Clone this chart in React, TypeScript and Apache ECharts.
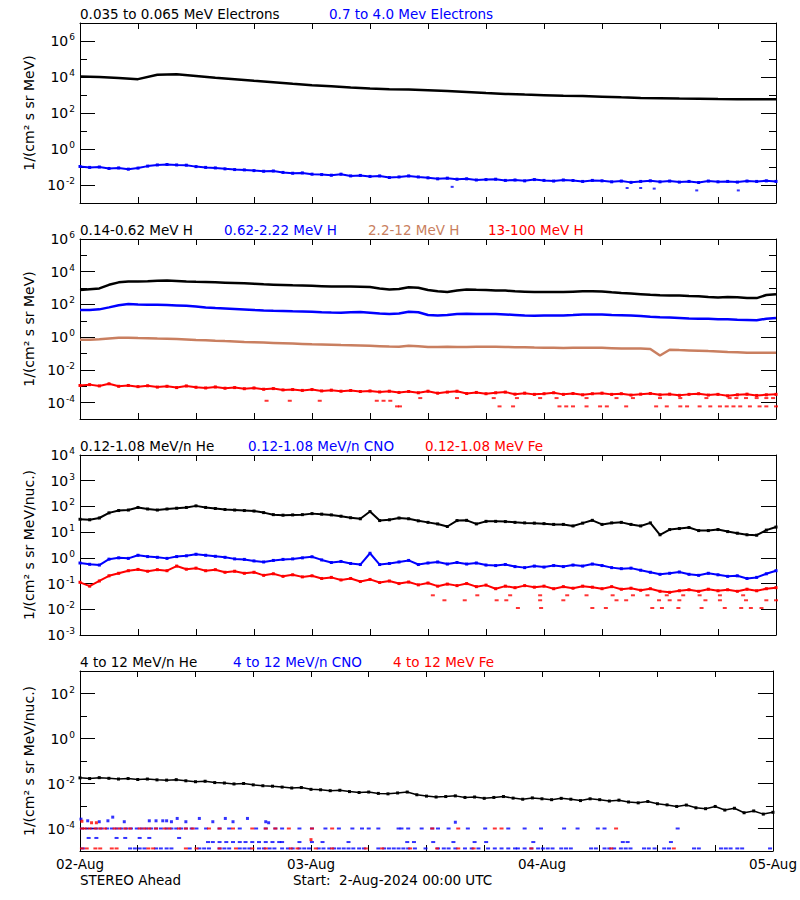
import React, { useEffect, useRef } from "react";
import * as echarts from "echarts";

// ---------------- DATA ----------------
// x: hours since 2-Aug-2024 00:00 UTC
const DAY_HOURS = [0, 24, 48, 72];
const DAY_LABELS = ["02-Aug", "03-Aug", "04-Aug", "05-Aug"];

// Panel 1 : electrons
const ELEC_LOW_STEP = 2; // 0.035 to 0.065 MeV electrons, every 2 h
const ELEC_LOW = [10700, 10000, 8900, 7600, 13200, 14100, 11500, 9100, 7600, 6200, 5100, 4200, 3500, 3100, 2600, 2300, 2100, 2000, 1860, 1660, 1480, 1290, 1150, 1050, 980, 910, 870, 810, 740, 690, 660, 630, 620, 590, 575, 575, 575];
const ELEC_HIGH = [0.107, 0.095, 0.10, 0.083, 0.089, 0.076, 0.087, 0.112, 0.13, 0.138, 0.13, 0.126, 0.105, 0.095, 0.089, 0.079, 0.072, 0.069, 0.063, 0.058, 0.06, 0.05, 0.045, 0.047, 0.04, 0.038, 0.035, 0.04, 0.032, 0.034, 0.030, 0.032, 0.026, 0.028, 0.032, 0.028, 0.025, 0.022, 0.024, 0.021, 0.022, 0.019, 0.020, 0.021, 0.018, 0.019, 0.017, 0.020, 0.018, 0.0166, 0.019, 0.0178, 0.0158, 0.018, 0.017, 0.015, 0.0166, 0.014, 0.0158, 0.017, 0.015, 0.0166, 0.0145, 0.0158, 0.0138, 0.0166, 0.015, 0.0158, 0.0145, 0.0166, 0.0158, 0.017, 0.0158];
const ELEC_HIGH_OUTLIERS = [[38.5, 0.0079], [56.6, 0.0068], [58.0, 0.0068], [59.4, 0.0063], [63.8, 0.005], [68.1, 0.005]];

// Panel 2 : protons (hourly)
const H_LOW = [759, 851, 955, 1585, 2239, 2512, 2570, 2630, 2818, 2951, 2754, 2512, 2399, 2344, 2239, 2138, 2042, 1950, 1820, 1698, 1622, 1549, 1479, 1445, 1380, 1318, 1259, 1259, 1230, 1202, 1148, 955, 832, 891, 1122, 1047, 759, 631, 575, 708, 832, 794, 759, 724, 708, 631, 603, 575, 575, 575, 575, 603, 631, 631, 617, 550, 501, 468, 427, 389, 363, 355, 347, 331, 316, 282, 269, 282, 275, 251, 245, 380, 427];
const H_MID = [45.7, 45.7, 50.1, 66.1, 89.1, 105, 100, 95.5, 95.5, 91.2, 87.1, 83.2, 75.9, 66.1, 60.3, 56.2, 52.5, 49.0, 45.7, 42.7, 40.7, 39.8, 38.0, 37.2, 36.3, 33.9, 32.4, 31.6, 33.1, 34.7, 31.6, 28.2, 26.3, 28.2, 35.5, 33.1, 22.9, 21.4, 22.9, 26.3, 26.9, 26.3, 25.7, 25.7, 24.5, 22.9, 20.9, 20.4, 20.9, 21.4, 21.4, 22.4, 24.0, 24.5, 24.0, 22.4, 21.9, 21.4, 20.0, 17.8, 16.6, 15.8, 14.8, 13.8, 13.5, 13.2, 12.6, 12.3, 11.7, 11.2, 10.7, 13.5, 14.8];
const H_HIGH = [0.692, 0.708, 0.759, 0.832, 0.912, 0.933, 0.891, 0.871, 0.832, 0.813, 0.776, 0.724, 0.676, 0.646, 0.603, 0.575, 0.550, 0.513, 0.490, 0.468, 0.447, 0.427, 0.407, 0.389, 0.372, 0.363, 0.347, 0.331, 0.324, 0.309, 0.295, 0.282, 0.269, 0.263, 0.302, 0.282, 0.251, 0.251, 0.257, 0.251, 0.251, 0.263, 0.263, 0.263, 0.251, 0.245, 0.240, 0.234, 0.229, 0.224, 0.219, 0.224, 0.229, 0.229, 0.224, 0.214, 0.204, 0.200, 0.200, 0.191, 0.076, 0.170, 0.162, 0.155, 0.148, 0.141, 0.135, 0.126, 0.120, 0.112, 0.112, 0.112, 0.112];
const H_TOP = [1.12e-3, 1.26e-3, 1.05e-3, 1.41e-3, 1.0e-3, 1.12e-3, 9.5e-4, 1.07e-3, 8.9e-4, 1.0e-3, 8.3e-4, 1.05e-3, 8.7e-4, 7.9e-4, 9.1e-4, 7.6e-4, 8.3e-4, 7.1e-4, 7.9e-4, 6.6e-4, 7.2e-4, 6.0e-4, 6.3e-4, 5.6e-4, 6.3e-4, 5.2e-4, 5.8e-4, 5.0e-4, 5.5e-4, 4.8e-4, 5.2e-4, 4.5e-4, 5.0e-4, 4.2e-4, 4.8e-4, 4.0e-4, 5.0e-4, 3.8e-4, 4.4e-4, 5.0e-4, 3.6e-4, 4.2e-4, 3.5e-4, 4.0e-4, 4.4e-4, 3.3e-4, 3.8e-4, 3.2e-4, 3.5e-4, 4.0e-4, 3.2e-4, 3.6e-4, 3.0e-4, 3.5e-4, 3.8e-4, 3.2e-4, 3.5e-4, 2.9e-4, 3.3e-4, 3.6e-4, 3.0e-4, 3.3e-4, 2.8e-4, 3.2e-4, 3.5e-4, 2.9e-4, 3.2e-4, 2.6e-4, 3.0e-4, 3.3e-4, 2.75e-4, 3.0e-4, 3.2e-4];
const H_TOP_LEVEL_A = 1.9e-4;
const H_TOP_HOURS_A = [35.2, 39.0, 42.8, 45.2, 47.6, 49.3, 52.4, 55.5, 57.2, 60.0, 62.1, 64.8, 67.2, 67.9, 68.9, 70.0, 71.0, 71.7];
const H_TOP_LEVEL_B = 1.3e-4;
const H_TOP_HOURS_B = [19.3, 21.7, 24.8, 30.7, 31.4, 32.1];
const H_TOP_LEVEL_C = 5.9e-5;
const H_TOP_HOURS_C = [32.8, 33.1, 43.4, 44.8, 49.6, 50.3, 51.0, 52.4, 53.8, 54.5, 56.5, 59.6, 60.7, 62.1, 62.8, 64.1, 65.2, 66.2, 66.9, 67.6, 68.3, 69.3, 70.3, 71.0, 72.0];

// Panel 3 : 0.12-1.08 MeV/n heavy ions (hourly)
const HE_LOW = [31.6, 30.2, 35.5, 56.2, 69.2, 72.4, 91.2, 79.4, 72.4, 79.4, 85.1, 91.2, 105, 91.2, 83.2, 75.9, 72.4, 69.2, 66.1, 57.5, 47.9, 45.7, 46.8, 47.9, 52.5, 50.1, 46.8, 41.7, 36.3, 33.1, 63.1, 28.2, 30.2, 35.5, 33.1, 27.5, 24.0, 20.9, 16.6, 28.2, 28.8, 20.9, 26.3, 26.3, 25.7, 24.0, 22.9, 22.4, 21.4, 20.0, 20.0, 17.4, 22.4, 28.8, 20.0, 22.9, 24.0, 20.0, 17.4, 22.9, 7.9, 12.6, 13.8, 15.1, 11.5, 11.5, 12.6, 10.5, 9.1, 7.9, 7.6, 12.0, 15.8];
const CNO_LOW = [0.631, 0.562, 0.525, 0.891, 1.0, 0.955, 1.26, 1.12, 1.05, 0.955, 1.12, 1.20, 1.38, 1.26, 1.15, 1.05, 0.912, 0.871, 0.759, 0.692, 0.794, 0.871, 0.912, 1.0, 1.10, 0.832, 0.661, 0.724, 0.603, 0.550, 1.51, 0.550, 0.603, 0.692, 0.794, 0.550, 0.631, 0.692, 0.575, 0.661, 0.575, 0.631, 0.525, 0.501, 0.550, 0.457, 0.417, 0.479, 0.437, 0.501, 0.457, 0.525, 0.479, 0.575, 0.501, 0.417, 0.380, 0.398, 0.331, 0.275, 0.229, 0.251, 0.282, 0.229, 0.209, 0.251, 0.219, 0.191, 0.200, 0.158, 0.174, 0.240, 0.316];
const FE_LOW = [0.112, 0.0794, 0.126, 0.200, 0.251, 0.316, 0.355, 0.302, 0.347, 0.316, 0.479, 0.363, 0.398, 0.316, 0.347, 0.275, 0.302, 0.251, 0.275, 0.209, 0.240, 0.191, 0.219, 0.182, 0.200, 0.158, 0.174, 0.138, 0.158, 0.120, 0.145, 0.110, 0.126, 0.100, 0.115, 0.0891, 0.105, 0.0794, 0.0955, 0.0832, 0.100, 0.0759, 0.0871, 0.0631, 0.0794, 0.0692, 0.0832, 0.0724, 0.0794, 0.0631, 0.0759, 0.0661, 0.0794, 0.0724, 0.0631, 0.0759, 0.0603, 0.0661, 0.0550, 0.0631, 0.0501, 0.0457, 0.0525, 0.0575, 0.0501, 0.0603, 0.0525, 0.0575, 0.0501, 0.0603, 0.0525, 0.0631, 0.0692];
const FE_LOW_LEVEL_A = 0.035;
const FE_LOW_HOURS_A = [36.5, 41.1, 44.5, 47.6, 50.4, 52.4, 55.1, 57.2, 58.7, 60.7, 62.4, 64.1, 66.2, 68.6];
const FE_LOW_LEVEL_B = 0.0224;
const FE_LOW_HOURS_B = [37.7, 39.8, 43.1, 44.1, 47.6, 50.0, 55.5, 56.5, 59.9, 61.0, 62.0, 64.7, 66.2, 68.9, 71.0, 72.0];
const FE_LOW_LEVEL_C = 0.0112;
const FE_LOW_HOURS_C = [45.3, 47.7, 53.0, 54.4, 59.2, 60.2, 61.9, 64.3, 66.7, 68.4, 69.4, 70.5];

// Panel 4 : 4 to 12 MeV/n heavy ions
const HE_HIGH = [0.0178, 0.0166, 0.0182, 0.0170, 0.0158, 0.0166, 0.0151, 0.0158, 0.0145, 0.0141, 0.0148, 0.0132, 0.0120, 0.0126, 0.0110, 0.0105, 0.00955, 0.0100, 0.00871, 0.00794, 0.00759, 0.00692, 0.00631, 0.00661, 0.00550, 0.00525, 0.00479, 0.00501, 0.00437, 0.00398, 0.00417, 0.00363, 0.00347, 0.00380, 0.00417, 0.00316, 0.00275, 0.00251, 0.00263, 0.00282, 0.00240, 0.00251, 0.00219, 0.00240, 0.00263, 0.00224, 0.00200, 0.00229, 0.00209, 0.00191, 0.00219, 0.00200, 0.00174, 0.00209, 0.00191, 0.00166, 0.00182, 0.00151, 0.00138, 0.00158, 0.00126, 0.00112, 0.000955, 0.00110, 0.000832, 0.000759, 0.000955, 0.000661, 0.000794, 0.000501, 0.000603, 0.000437, 0.000525];
const CNO_HIGH_UPPER = [[0.1, 2.6e-4], [0.8, 2.2e-4], [2.0, 2.0e-4], [2.9, 2.2e-4], [3.4, 3.2e-4], [4.6, 2.0e-4], [7.2, 2.2e-4], [7.9, 2.2e-4], [8.6, 2.2e-4], [9.0, 2.2e-4], [9.5, 2.0e-4], [10.1, 2.8e-4], [11.0, 2.0e-4], [12.4, 2.8e-4], [13.8, 2.0e-4], [15.1, 2.8e-4], [15.9, 2.0e-4], [17.4, 2.8e-4], [19.3, 2.0e-4], [19.6, 1.8e-4], [39.0, 1.9e-4]];
const CNO_HIGH_LEVEL_1 = 1.0e-4;
const CNO_HIGH_HOURS_1 = [0.2, 0.7, 1.2, 1.7, 2.2, 2.8, 3.3, 3.8, 4.3, 4.8, 5.3, 5.9, 6.4, 6.9, 7.4, 7.9, 8.4, 9.0, 9.5, 10.0, 10.5, 11.0, 11.6, 12.1, 13.1, 14.5, 15.5, 16.6, 18.3, 19.3, 20.3, 21.0, 22.8, 24.1, 25.5, 26.9, 28.3, 29.3, 30.0, 31.0, 33.1, 33.4, 34.1, 35.5, 36.6, 37.2, 38.3, 40.3, 42.1, 44.5, 46.2, 47.9, 50.3, 51.7, 53.8, 54.5, 62.1];
const CNO_HIGH_LEVEL_2 = 3.8e-5;
const CNO_HIGH_HOURS_2 = [0.9, 1.7, 3.8, 4.7, 6.2, 7.2, 10.3];
const CNO_HIGH_LEVEL_3 = 2.5e-5;
const CNO_HIGH_HOURS_3 = [13.3, 13.8, 14.5, 15.2, 15.9, 16.6, 17.2, 17.9, 18.6, 19.3, 20.0, 20.7, 21.0, 22.8, 24.1, 25.2, 27.9, 34.0, 34.7, 36.7, 38.8, 41.0, 42.2, 47.1, 56.4, 56.9, 61.4];
const CNO_HIGH_LEVEL_4 = 1.3e-5;
const CNO_HIGH_HOURS_4 = [0.3, 5.2, 5.7, 6.2, 6.7, 7.9, 8.4, 9.0, 9.5, 11.4, 12.4, 12.9, 13.4, 14.5, 15.0, 15.5, 16.6, 17.1, 17.6, 18.6, 19.1, 19.7, 20.2, 21.0, 21.6, 22.1, 22.8, 23.3, 23.8, 24.8, 25.3, 25.9, 26.4, 26.9, 27.4, 27.9, 28.4, 29.0, 29.5, 31.0, 31.6, 32.1, 32.6, 33.1, 33.6, 34.1, 34.8, 35.9, 37.2, 37.8, 38.3, 39.0, 40.0, 40.7, 41.4, 42.4, 43.1, 43.8, 44.5, 45.2, 45.5, 46.2, 46.9, 47.6, 48.1, 48.6, 49.1, 50.0, 50.5, 51.0, 53.1, 53.6, 54.5, 55.0, 55.5, 56.2, 56.7, 57.2, 58.6, 59.1, 59.7, 60.7, 61.2, 63.8, 64.3, 66.6, 67.1, 67.6, 68.3, 68.8, 71.7];
const FE_HIGH_UPPER = [[0.2, 2.1e-4], [1.2, 1.8e-4], [1.7, 1.8e-4], [24.0, 3.2e-5]];
const FE_HIGH_LEVEL_1 = 1.0e-4;
const FE_HIGH_HOURS_1 = [0.2, 0.5, 1.0, 1.6, 2.1, 2.6, 3.6, 4.1, 4.7, 5.2, 6.2, 6.7, 7.2, 7.9, 8.8, 9.3, 10.3, 11.0, 11.7, 13.4, 14.5, 15.9, 17.9, 19.3, 20.3, 21.7, 24.1, 26.2, 36.6, 39.3, 43.1, 43.8, 55.7];
const FE_HIGH_LEVEL_4 = 1.3e-5;
const FE_HIGH_HOURS_4 = [0.2, 0.7, 1.6, 2.1, 3.3, 3.8, 7.1, 7.6, 11.0, 12.1, 14.5, 16.2, 17.9, 19.3, 21.9, 22.6, 24.5, 26.2, 29.7, 31.4, 34.3, 37.1, 39.3, 40.9, 46.9, 55.2, 61.7];

// ---------------- STYLE / LAYOUT ----------------
const FONT = "DejaVu Sans";
const BLACK = "#000000";
const BLUE = "#0000ff";
const BROWN = "#c97f60";
const RED = "#ff0000";

const GRID_LEFT = 80;
const GRID_W = 696;
const GRID_H = 180;
const PANEL_TOPS = [23, 239, 455, 671];
const Y_MIN = [-3, -5, -3, -5];
const Y_MAX = [7, 6, 4, 3];
const Y_MAJOR = [[-2, 0, 2, 4, 6], [-4, -2, 0, 2, 4, 6], [-3, -2, -1, 0, 1, 2, 3, 4], [-4, -2, 0, 2]];
const Y_NAMES = ["1/(cm² s sr MeV)", "1/(cm² s sr MeV)", "1/(cm² s sr MeV/nuc.)", "1/(cm² s sr MeV/nuc.)"];

const TITLES: [string, number, number, string][] = [
  ["0.035 to 0.065 MeV Electrons", 80, 7, BLACK],
  ["0.7 to 4.0 Mev Electrons", 329, 7, BLUE],
  ["0.14-0.62 MeV H", 80, 223, BLACK],
  ["0.62-2.22 MeV H", 224, 223, BLUE],
  ["2.2-12 MeV H", 368, 223, BROWN],
  ["13-100 MeV H", 488, 223, RED],
  ["0.12-1.08 MeV/n He", 80, 439, BLACK],
  ["0.12-1.08 MeV/n CNO", 248, 439, BLUE],
  ["0.12-1.08 MeV Fe", 425, 439, RED],
  ["4 to 12 MeV/n He", 80, 655, BLACK],
  ["4 to 12 MeV/n CNO", 233, 655, BLUE],
  ["4 to 12 MeV Fe", 393, 655, RED],
  ["STEREO Ahead", 80, 873, BLACK],
  ["Start:  2-Aug-2024 00:00 UTC", 293, 873, BLACK],
];

// ---------------- helpers ----------------
const lg = (v: number) => Math.log10(v);
const seriesXY = (vals: number[], step: number) => vals.map((v, i) => [i * step, lg(v)]);
const pairsXY = (pairs: number[][]) => pairs.map(([h, v]) => [h, lg(v)]);
const levelXY = (hours: number[], v: number) => hours.map((h) => [h, lg(v)]);

const lineS = (p: number, data: number[][], color: string, width = 2) => ({
  type: "line", xAxisIndex: 2 * p, yAxisIndex: 4 * p, data,
  symbol: "none", showSymbol: false, silent: true,
  lineStyle: { color, width }, itemStyle: { color }, z: 3,
});
const noisyS = (p: number, data: number[][], color: string, width = 2) => ({
  type: "line", xAxisIndex: 2 * p, yAxisIndex: 4 * p, data,
  symbol: "rect", symbolSize: 3, showSymbol: true, showAllSymbol: true, silent: true,
  lineStyle: { color, width }, itemStyle: { color }, z: 3,
});
const dotS = (p: number, data: number[][], color: string, size: number[] = [4, 2]) => ({
  type: "scatter", xAxisIndex: 2 * p, yAxisIndex: 4 * p, data,
  symbol: "rect", symbolSize: size, silent: true, itemStyle: { color }, z: 3,
});

function buildOption() {
  const grids = PANEL_TOPS.map((top) => ({ left: GRID_LEFT, top, width: GRID_W, height: GRID_H, containLabel: false }));
  const xAxes: any[] = [];
  const yAxes: any[] = [];
  PANEL_TOPS.forEach((_, p) => {
    const baseX = {
      gridIndex: p, type: "value", min: 0, max: 72, interval: 6,
      axisLine: { show: true, onZero: false, lineStyle: { color: BLACK, width: 1 } },
      axisTick: { show: true, inside: true, length: 6, lineStyle: { color: BLACK, width: 1 } },
      splitLine: { show: false },
    };
    xAxes.push({
      ...baseX, position: "bottom",
      axisLabel: p === 3 ? {
        show: true, customValues: DAY_HOURS, margin: 6, color: BLACK, fontSize: 13.5, fontFamily: FONT,
        formatter: (v: number) => DAY_LABELS[DAY_HOURS.indexOf(Math.round(v))] ?? "",
      } : { show: false },
    });
    xAxes.push({ ...baseX, position: "top", axisLabel: { show: false } });

    const majors = Y_MAJOR[p];
    const baseY = {
      gridIndex: p, type: "value", min: Y_MIN[p], max: Y_MAX[p], splitLine: { show: false },
    };
    const majorAxis = (position: string, withLabels: boolean) => ({
      ...baseY, position,
      axisLine: { show: true, onZero: false, lineStyle: { color: BLACK, width: 1 } },
      axisTick: { show: true, inside: true, length: 15, customValues: majors, lineStyle: { color: BLACK, width: 1 } },
      axisLabel: withLabels ? {
        show: true, customValues: majors, margin: 5,
        formatter: (v: number) => `{b|10}{e|${Math.round(v)}}`,
        rich: {
          b: { fontSize: 14, fontFamily: FONT, color: BLACK },
          e: { fontSize: 9, fontFamily: FONT, color: BLACK, padding: [0, 0, 8, 1] },
        },
      } : { show: false },
      ...(withLabels ? {
        name: Y_NAMES[p], nameLocation: "middle", nameGap: 38, nameRotate: 90,
        nameTextStyle: { fontSize: 14, fontFamily: FONT, color: BLACK },
      } : {}),
    });
    const minorAxis = (position: string) => ({
      ...baseY, position, interval: 1,
      axisLine: { show: false, onZero: false },
      axisTick: { show: p !== 2, inside: true, length: 7, lineStyle: { color: BLACK, width: 1 } },
      axisLabel: { show: false },
    });
    yAxes.push(majorAxis("left", true));
    yAxes.push(minorAxis("left"));
    yAxes.push(majorAxis("right", false));
    yAxes.push(minorAxis("right"));
  });

  const series: any[] = [
    // Panel 1
    lineS(0, seriesXY(ELEC_LOW, ELEC_LOW_STEP), BLACK, 2.5),
    noisyS(0, seriesXY(ELEC_HIGH, 1), BLUE),
    dotS(0, pairsXY(ELEC_HIGH_OUTLIERS), BLUE, [3, 2]),
    // Panel 2
    lineS(1, seriesXY(H_LOW, 1), BLACK, 2.5),
    lineS(1, seriesXY(H_MID, 1), BLUE, 2.5),
    lineS(1, seriesXY(H_HIGH, 1), BROWN, 2.5),
    noisyS(1, seriesXY(H_TOP, 1), RED),
    dotS(1, levelXY(H_TOP_HOURS_A, H_TOP_LEVEL_A), RED),
    dotS(1, levelXY(H_TOP_HOURS_B, H_TOP_LEVEL_B), RED),
    dotS(1, levelXY(H_TOP_HOURS_C, H_TOP_LEVEL_C), RED),
    // Panel 3
    noisyS(2, seriesXY(HE_LOW, 1), BLACK),
    noisyS(2, seriesXY(CNO_LOW, 1), BLUE),
    noisyS(2, seriesXY(FE_LOW, 1), RED),
    dotS(2, levelXY(FE_LOW_HOURS_A, FE_LOW_LEVEL_A), RED),
    dotS(2, levelXY(FE_LOW_HOURS_B, FE_LOW_LEVEL_B), RED),
    dotS(2, levelXY(FE_LOW_HOURS_C, FE_LOW_LEVEL_C), RED),
    // Panel 4
    noisyS(3, seriesXY(HE_HIGH, 1), BLACK, 1.5),
    dotS(3, pairsXY(CNO_HIGH_UPPER), BLUE, [3, 3]),
    dotS(3, levelXY(CNO_HIGH_HOURS_1, CNO_HIGH_LEVEL_1), BLUE),
    dotS(3, levelXY(CNO_HIGH_HOURS_2, CNO_HIGH_LEVEL_2), BLUE),
    dotS(3, levelXY(CNO_HIGH_HOURS_3, CNO_HIGH_LEVEL_3), BLUE),
    dotS(3, levelXY(CNO_HIGH_HOURS_4, CNO_HIGH_LEVEL_4), BLUE),
    dotS(3, pairsXY(FE_HIGH_UPPER), RED, [3, 3]),
    dotS(3, levelXY(FE_HIGH_HOURS_1, FE_HIGH_LEVEL_1), RED),
    dotS(3, levelXY(FE_HIGH_HOURS_4, FE_HIGH_LEVEL_4), RED),
  ];

  return {
    animation: false,
    backgroundColor: "#ffffff",
    textStyle: { fontFamily: FONT },
    title: TITLES.map(([text, left, top, color]) => ({
      text, left, top, padding: 0,
      textStyle: { color, fontSize: 13.5, fontWeight: "normal", fontFamily: FONT },
    })),
    grid: grids,
    xAxis: xAxes,
    yAxis: yAxes,
    series,
  };
}

export default function App() {
  const ref = useRef<HTMLDivElement>(null);
  useEffect(() => {
    if (!ref.current) return;
    const chart = echarts.init(ref.current, null, { renderer: "svg" });
    chart.setOption(buildOption() as any);
    return () => chart.dispose();
  }, []);
  return (
    <div
      ref={ref}
      style={{ position: "absolute", left: 0, top: 0, width: 800, height: 900, background: "#fff" }}
    />
  );
}
